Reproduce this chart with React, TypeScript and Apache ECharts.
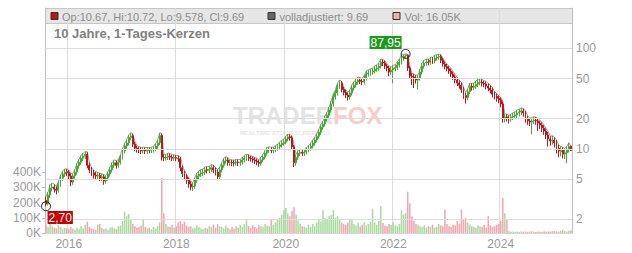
import React, { useEffect, useRef } from 'react';
import * as echarts from 'echarts';

const FONT = '"Liberation Sans", Arial, sans-serif';

// Two-week candles, first one starting 2015-08-04
const START = { y: 2015, m: 7, d: 4 };
const STEP_DAYS = 14;

const opens = [
  3.1, 2.85, 3.5, 4.1, 4.2, 4.0, 3.9, 4.5, 5.15, 5.65,
  5.95, 5.85, 5.4, 4.7, 5.4, 5.9, 6.8, 7.4, 8.1, 8.5,
  8.9, 6.9, 6.2, 5.8, 5.5, 5.4, 5.45, 5.15, 5.3, 4.8,
  5.15, 5.65, 6.2, 6.9, 7.3, 6.9, 7.4, 8.3, 9.55, 10.7,
  11.5, 13.0, 13.5, 11.2, 10.2, 9.9, 9.8, 9.6, 9.8, 9.55,
  9.75, 9.7, 9.8, 10.0, 10.7, 11.5, 13.6, 8.3, 8.2, 8.3,
  8.5, 8.3, 8.1, 8.2, 8.1, 8.0, 6.5, 5.7, 5.3, 4.9,
  4.5, 4.2, 4.3, 4.9, 5.4, 5.65, 5.8, 5.9, 6.25, 6.15,
  6.3, 6.5, 6.2, 5.9, 5.3, 6.2, 6.9, 7.6, 7.8, 7.3,
  7.35, 7.3, 7.25, 7.4, 7.3, 7.4, 7.8, 8.1, 8.3, 8.1,
  8.0, 7.8, 7.6, 7.4, 7.2, 7.8, 8.3, 9.1, 9.8, 9.85,
  9.7, 9.8, 10.2, 10.5, 11.0, 11.4, 11.7, 12.6, 13.2, 12.9,
  10.5, 7.3, 8.3, 9.1, 9.3, 9.1, 9.3, 9.8, 10.2, 10.7,
  11.5, 12.3, 13.4, 14.7, 16.5, 17.7, 19.9, 21.7, 24.4, 28.0,
  32.9, 36.0, 42.0, 45.0, 39.0, 36.5, 34.4, 32.8, 36.0, 40.3,
  43.2, 46.3, 48.4, 47.0, 46.3, 50.5, 55.6, 56.9, 58.2, 59.5,
  62.3, 63.7, 66.7, 73.0, 71.5, 66.7, 63.7, 58.2, 60.9, 63.0,
  64.2, 68.3, 73.0, 80.0, 84.0, 85.5, 63.7, 53.0, 51.9, 50.7,
  48.4, 50.7, 58.2, 66.7, 71.5, 73.0, 72.5, 76.5, 75.0, 80.0,
  82.0, 83.0, 76.0, 70.0, 66.0, 63.0, 59.5, 55.6, 51.9, 48.4,
  45.2, 43.0, 39.0, 34.0, 32.5, 37.0, 42.0, 41.0, 42.0, 44.0,
  46.0, 46.3, 45.0, 44.2, 42.2, 40.3, 38.5, 35.0, 33.5, 32.0,
  30.7, 28.0, 19.9, 20.8, 20.3, 19.9, 20.8, 21.3, 21.8, 22.8,
  23.3, 23.8, 22.8, 19.9, 19.0, 18.5, 19.0, 19.4, 19.0, 18.1,
  17.3, 16.2, 15.1, 13.8, 12.6, 12.0, 12.3, 11.5, 10.2, 9.4,
  9.7, 8.9, 9.2, 9.9, 10.67,
];

const closes = [
  2.85, 3.5, 4.1, 4.2, 4.0, 3.9, 4.5, 5.15, 5.65, 5.9,
  5.85, 5.4, 4.7, 5.4, 5.9, 6.8, 7.4, 8.1, 8.5, 8.9,
  6.9, 6.2, 5.8, 5.5, 5.4, 5.45, 5.15, 5.3, 4.8, 5.15,
  5.65, 6.2, 6.9, 7.3, 6.9, 7.4, 8.3, 9.55, 10.7, 11.5,
  13.0, 13.5, 11.2, 10.2, 9.9, 9.8, 9.6, 9.8, 9.55, 9.75,
  9.7, 9.8, 10.0, 10.7, 11.5, 13.6, 8.3, 8.2, 8.3, 8.5,
  8.3, 8.1, 8.2, 8.1, 8.0, 6.5, 5.7, 5.3, 4.9, 4.5,
  4.2, 4.3, 4.9, 5.4, 5.65, 5.8, 5.9, 6.2, 6.15, 6.3,
  6.5, 6.2, 5.9, 5.3, 6.2, 6.9, 7.6, 7.8, 7.3, 7.35,
  7.3, 7.25, 7.4, 7.3, 7.4, 7.8, 8.1, 8.3, 8.1, 8.0,
  7.8, 7.6, 7.4, 7.2, 7.8, 8.3, 9.1, 9.8, 9.85, 9.7,
  9.8, 10.2, 10.5, 11.0, 11.4, 11.7, 12.6, 13.2, 12.9, 10.5,
  7.3, 8.3, 9.1, 9.3, 9.1, 9.3, 9.8, 10.2, 10.7, 11.5,
  12.3, 13.4, 14.7, 16.5, 17.7, 19.9, 21.7, 24.4, 28.0, 32.9,
  36.0, 42.0, 45.0, 39.0, 36.5, 34.4, 32.8, 36.0, 40.3, 43.2,
  46.3, 48.4, 47.0, 46.3, 50.5, 55.6, 56.9, 58.2, 59.5, 62.3,
  63.7, 66.7, 73.0, 71.5, 66.7, 63.7, 58.2, 60.9, 63.7, 64.2,
  68.3, 73.0, 80.0, 84.0, 85.5, 63.7, 53.0, 51.9, 50.7, 48.4,
  50.7, 58.2, 66.7, 71.5, 73.0, 72.5, 76.5, 75.0, 80.0, 82.0,
  83.0, 76.0, 70.0, 66.0, 63.0, 59.5, 55.6, 51.9, 48.4, 45.2,
  43.0, 39.0, 34.0, 32.5, 37.0, 42.0, 41.0, 42.0, 44.0, 46.0,
  46.3, 45.0, 44.2, 42.2, 40.3, 38.5, 35.0, 33.5, 32.0, 30.7,
  28.0, 19.9, 20.8, 20.3, 19.9, 20.8, 21.3, 21.8, 22.8, 23.3,
  23.8, 22.8, 19.9, 19.0, 18.5, 19.0, 19.4, 19.0, 18.1, 17.3,
  16.2, 15.1, 13.8, 12.6, 12.0, 12.3, 11.5, 10.2, 9.55, 9.7,
  8.9, 9.2, 9.9, 10.67, 9.69,
];

const lows = [
  2.70, 2.75, 3.26, 3.79, 3.70, 3.55, 3.70, 4.22, 4.85, 5.28,
  5.38, 4.99, 4.27, 4.42, 5.09, 5.57, 6.38, 6.96, 7.58, 7.97,
  6.43, 5.76, 5.38, 5.09, 4.99, 4.99, 4.80, 4.80, 4.42, 4.51,
  4.85, 5.33, 5.86, 6.48, 6.38, 6.53, 7.01, 7.87, 9.02, 10.08,
  10.85, 12.19, 10.46, 9.50, 9.22, 9.12, 8.93, 9.02, 8.93, 8.98,
  9.07, 9.12, 9.22, 9.50, 10.08, 10.94, 7.68, 7.58, 7.68, 7.78,
  7.78, 7.58, 7.63, 7.58, 7.44, 6.05, 5.28, 4.90, 4.51, 4.13,
  3.89, 3.84, 4.03, 4.61, 5.04, 5.28, 5.38, 5.52, 5.71, 5.76,
  5.90, 5.76, 5.47, 4.90, 4.99, 5.86, 6.53, 7.15, 6.82, 6.82,
  6.77, 6.72, 6.82, 6.77, 6.82, 7.01, 7.34, 7.63, 7.58, 7.49,
  7.30, 7.10, 6.91, 6.67, 6.82, 7.39, 7.87, 8.64, 9.17, 9.07,
  9.12, 9.31, 9.60, 9.94, 10.37, 10.75, 11.14, 11.90, 12.10, 9.79,
  6.62, 6.82, 7.78, 8.54, 8.50, 8.54, 8.83, 9.26, 9.65, 10.13,
  10.85, 11.62, 12.67, 13.82, 15.55, 16.70, 18.72, 20.45, 23.04, 26.40,
  31.01, 33.98, 39.55, 36.48, 34.08, 32.06, 30.34, 30.91, 33.98, 38.02,
  40.70, 43.58, 43.97, 43.01, 43.78, 47.62, 52.32, 53.38, 54.62, 56.06,
  58.56, 59.90, 62.88, 66.62, 62.21, 59.04, 52.80, 54.53, 45.12, 59.04,
  60.48, 64.51, 69.12, 75.65, 78.72, 59.52, 49.44, 43.20, 40.32, 44.64,
  38.88, 47.81, 54.91, 62.88, 67.20, 67.68, 68.35, 70.08, 71.04, 75.36,
  77.28, 71.52, 65.76, 61.92, 59.04, 55.68, 51.84, 48.48, 45.12, 42.24,
  39.84, 36.00, 31.49, 28.32, 30.53, 34.94, 37.92, 38.40, 39.55, 41.28,
  43.01, 41.76, 41.09, 39.17, 37.44, 35.71, 32.45, 31.01, 29.57, 28.42,
  25.92, 18.24, 18.43, 18.72, 17.95, 18.62, 19.39, 19.78, 20.35, 21.12,
  21.70, 20.93, 18.24, 17.38, 16.90, 13.92, 17.66, 17.38, 15.17, 15.84,
  14.78, 13.82, 12.58, 10.56, 10.75, 11.04, 10.37, 9.02, 8.26, 8.45,
  8.06, 7.97, 7.20, 9.22, 9.578,
];

const highs = [
  3.38, 3.74, 4.42, 4.58, 4.47, 4.26, 4.78, 5.51, 6.03, 6.34,
  6.34, 6.19, 5.72, 5.72, 6.29, 7.23, 7.90, 8.63, 9.10, 9.46,
  9.36, 7.33, 6.60, 6.19, 5.93, 5.88, 5.77, 5.67, 5.56, 5.46,
  5.98, 6.60, 7.33, 7.80, 7.70, 7.85, 8.79, 10.14, 11.34, 12.27,
  13.83, 14.46, 14.14, 11.86, 10.82, 10.50, 10.40, 10.40, 10.35, 10.35,
  10.35, 10.40, 10.61, 11.34, 12.27, 14.46, 14.25, 8.89, 8.84, 9.10,
  9.00, 8.79, 8.74, 8.68, 8.58, 8.37, 6.86, 6.08, 5.62, 5.20,
  4.78, 4.63, 5.20, 5.77, 6.08, 6.24, 6.34, 6.66, 6.66, 6.76,
  6.97, 6.92, 6.55, 6.24, 6.60, 7.33, 8.11, 8.37, 8.22, 7.85,
  7.80, 7.75, 7.90, 7.85, 7.90, 8.32, 8.63, 8.89, 8.79, 8.58,
  8.42, 8.27, 8.06, 7.80, 8.27, 8.84, 9.67, 10.40, 10.50, 10.40,
  10.45, 10.82, 11.18, 11.70, 12.17, 12.48, 13.42, 14.04, 13.94, 13.52,
  11.02, 8.84, 9.67, 9.93, 9.83, 9.93, 10.40, 10.87, 11.39, 12.27,
  13.10, 14.25, 15.70, 17.58, 18.93, 21.22, 23.19, 26.10, 29.95, 35.15,
  38.69, 45.03, 48.36, 47.32, 41.39, 38.69, 36.61, 38.48, 43.16, 46.38,
  49.71, 52.00, 51.38, 50.13, 54.08, 59.59, 61.15, 62.40, 63.86, 66.77,
  68.43, 71.55, 78.31, 77.58, 75.19, 70.20, 67.08, 65.31, 68.12, 68.64,
  73.22, 78.21, 85.70, 86.90, 87.95, 87.00, 67.08, 56.78, 55.64, 54.08,
  54.08, 62.19, 71.24, 76.44, 78.21, 78.00, 81.74, 81.64, 85.49, 86.50,
  87.50, 86.80, 80.08, 73.84, 69.89, 66.56, 62.92, 58.76, 54.91, 51.27,
  48.05, 45.76, 41.39, 36.40, 39.52, 44.93, 44.93, 45.24, 47.32, 49.40,
  49.92, 49.09, 47.84, 46.80, 44.72, 42.85, 40.77, 37.23, 35.57, 33.90,
  32.55, 29.64, 22.36, 22.15, 21.63, 22.26, 22.88, 23.40, 24.44, 24.96,
  25.58, 25.17, 23.92, 21.32, 20.38, 20.49, 20.90, 20.70, 20.18, 19.24,
  18.41, 17.26, 16.02, 14.77, 13.42, 13.52, 13.10, 12.27, 11.02, 10.61,
  10.40, 10.09, 10.71, 11.54, 10.72,
];

// Volume in thousands
const volumesK = [
  55, 40, 65, 45, 35, 30, 50, 40, 25, 35,
  30, 25, 40, 30, 20, 35, 25, 45, 30, 55,
  75, 40, 30, 25, 20, 55, 60, 35, 25, 30,
  20, 35, 40, 30, 25, 45, 50, 80, 140, 110,
  125, 90, 60, 45, 35, 40, 50, 85, 40, 30,
  35, 25, 40, 30, 45, 70, 363, 130, 60, 45,
  40, 55, 35, 45, 70, 80, 60, 75, 50, 40,
  45, 30, 35, 50, 40, 30, 25, 35, 30, 45,
  40, 55, 35, 60, 45, 40, 30, 50, 35, 25,
  40, 30, 45, 35, 55, 40, 60, 90, 45, 35,
  50, 40, 30, 55, 45, 40, 60, 50, 45, 85,
  55, 70, 90, 100, 120, 150, 165, 130, 110, 145,
  170, 120, 80, 60, 45, 40, 35, 55, 40, 60,
  45, 70, 90, 75, 150, 100, 85, 110, 120, 150,
  100, 110, 90, 70, 60, 55, 70, 90, 85, 60,
  50, 65, 45, 55, 70, 50, 60, 75, 160, 70,
  55, 80, 177, 65, 50, 45, 60, 55, 70, 50,
  45, 60, 150, 120, 130, 272, 195, 110, 80, 60,
  55, 45, 40, 50, 35, 45, 40, 55, 35, 40,
  60, 50, 45, 155, 60, 45, 40, 55, 50, 80,
  60, 155, 90, 100, 70, 55, 45, 40, 35, 50,
  45, 40, 55, 35, 112, 50, 40, 45, 55, 60,
  80, 230, 130, 90, 12, 8, 10, 7, 9, 6,
  11, 8, 10, 7, 9, 12, 8, 6, 10, 9,
  7, 11, 8, 10, 9, 12, 14, 10, 9, 16,
  20, 12, 10, 14, 16,
];

const priceLevels = [2, 5, 10, 20, 50, 100];
const volumeTicksK = [0, 100, 200, 300, 400];
const yearLabels = [2016, 2018, 2020, 2022, 2024];

const headerTexts = {
  ohlc: 'Op:10.67, Hi:10.72, Lo:9.578, Cl:9.69',
  adjusted: 'volladjustiert: 9.69',
  volume: 'Vol: 16.05K',
};
const titleText = '10 Jahre, 1-Tages-Kerzen';

const UP = '#47a933';
const DOWN = '#bd161b';
const VOL_UP = '#a9dba1';
const VOL_DOWN = '#f1a7b1';

function pad(n: number) {
  return n < 10 ? '0' + n : '' + n;
}

const dates: string[] = closes.map((_, i) => {
  const d = new Date(Date.UTC(START.y, START.m, START.d + i * STEP_DAYS));
  return `${d.getUTCFullYear()}-${pad(d.getUTCMonth() + 1)}-${pad(d.getUTCDate())}`;
});

function isYearStart(i: number) {
  if (i <= 0) return false;
  const y = +dates[i].slice(0, 4);
  const prev = +dates[i - 1].slice(0, 4);
  return y !== prev && yearLabels.indexOf(y) >= 0;
}

export default function App() {
  const ref = useRef<HTMLDivElement>(null);

  useEffect(() => {
    if (!ref.current) return;
    const chart = echarts.init(ref.current, undefined, { renderer: 'svg' });

    const candleData = closes.map((c, i) => [opens[i], c, lows[i], highs[i]]);
    const volData = volumesK.map((v, i) => ({
      value: v,
      itemStyle: { color: closes[i] >= opens[i] ? VOL_UP : VOL_DOWN },
    }));

    const fmtComma = (p: any) => Number(p.value).toFixed(2).replace('.', ',');

    const option: any = {
      animation: false,
      backgroundColor: '#ffffff',
      textStyle: { fontFamily: FONT },
      grid: { left: 45, right: 60, top: 8, bottom: 20 },
      xAxis: {
        type: 'category',
        data: dates,
        boundaryGap: true,
        axisLine: { show: true, lineStyle: { color: '#d6d6d6' } },
        axisTick: { show: false },
        axisLabel: {
          interval: (i: number) => isYearStart(i),
          formatter: (v: string) => v.slice(0, 4),
          color: '#999999',
          fontSize: 12,
          fontFamily: FONT,
          margin: 5,
        },
        splitLine: {
          show: true,
          interval: (i: number) => isYearStart(i),
          lineStyle: { color: '#dcdcdc', width: 1 },
        },
      },
      yAxis: [
        {
          type: 'value',
          position: 'left',
          min: 0,
          max: 1480,
          interval: 100,
          axisLine: { show: true, lineStyle: { color: '#bdbdbd' } },
          axisTick: {
            show: true,
            length: 3,
            customValues: volumeTicksK,
            lineStyle: { color: '#bdbdbd' },
          },
          axisLabel: {
            customValues: volumeTicksK,
            formatter: (v: number) => (v <= 400 ? v + 'K' : ''),
            color: '#999999',
            fontSize: 12,
            fontFamily: FONT,
            margin: 4,
          },
          splitLine: { show: false },
        },
        {
          type: 'log',
          logBase: 10,
          position: 'right',
          min: 1.466,
          max: 251.3,
          axisLine: { show: true, lineStyle: { color: '#bdbdbd' } },
          axisTick: { show: false },
          axisLabel: { show: false },
          splitLine: { show: false },
        },
      ],
      graphic: [
        {
          type: 'rect',
          silent: true,
          z: 0,
          shape: { x: 45.5, y: 8.5, width: 527, height: 15 },
          style: { fill: 'rgba(205,205,205,0.5)', stroke: '#c6c6c6', lineWidth: 1 },
        },
        {
          type: 'rect', silent: true, z: 1,
          shape: { x: 51, y: 12.5, width: 7, height: 7 },
          style: { fill: '#b3161b', stroke: '#333', lineWidth: 1 },
        },
        {
          type: 'text', silent: true, z: 1, x: 62, y: 16.5,
          style: {
            text: headerTexts.ohlc, fill: '#8c8c8c', font: `11px ${FONT}`,
            textVerticalAlign: 'middle', verticalAlign: 'middle',
          },
        },
        {
          type: 'rect', silent: true, z: 1,
          shape: { x: 268, y: 12.5, width: 7, height: 7 },
          style: { fill: '#666666', stroke: '#333', lineWidth: 1 },
        },
        {
          type: 'text', silent: true, z: 1, x: 279.5, y: 16.5,
          style: {
            text: headerTexts.adjusted, fill: '#8c8c8c', font: `11px ${FONT}`,
            textVerticalAlign: 'middle', verticalAlign: 'middle',
          },
        },
        {
          type: 'rect', silent: true, z: 1,
          shape: { x: 393, y: 12.5, width: 7, height: 7 },
          style: { fill: '#f2aab3', stroke: '#333', lineWidth: 1 },
        },
        {
          type: 'text', silent: true, z: 1, x: 404.5, y: 16.5,
          style: {
            text: headerTexts.volume, fill: '#8c8c8c', font: `11px ${FONT}`,
            textVerticalAlign: 'middle', verticalAlign: 'middle',
          },
        },
        {
          type: 'text', silent: true, z: 1, x: 54, y: 33.5,
          style: {
            text: titleText, fill: '#808080', font: `bold 13px ${FONT}`,
            textVerticalAlign: 'middle', verticalAlign: 'middle',
          },
        },
        {
          type: 'text', silent: true, z: 0, x: 233, y: 115.5,
          style: {
            text: 'TRADER', fill: '#e3e3e3', font: `bold 24px ${FONT}`, lineHeight: 18,
            textVerticalAlign: 'middle', verticalAlign: 'middle',
          },
        },
        {
          type: 'text', silent: true, z: 0, x: 333, y: 115.5,
          style: {
            text: 'FOX', fill: '#f7cccc', font: `bold 24px ${FONT}`, lineHeight: 18,
            textVerticalAlign: 'middle', verticalAlign: 'middle',
          },
        },
        {
          type: 'text', silent: true, z: 0, x: 240, y: 132.5,
          style: {
            text: 'REALTIME STOCK SCREENING', fill: '#e6e6e6', font: `bold 6px ${FONT}`, lineHeight: 6,
            textVerticalAlign: 'middle', verticalAlign: 'middle',
          },
        },
      ],
      series: [
        {
          name: 'Vol',
          type: 'bar',
          xAxisIndex: 0,
          yAxisIndex: 0,
          data: volData,
          barWidth: '75%',
          z: 1,
          silent: true,
        },
        {
          name: 'volladjustiert',
          type: 'line',
          xAxisIndex: 0,
          yAxisIndex: 1,
          data: highs,
          symbol: 'none',
          lineStyle: { color: '#9a9a9a', width: 1 },
          z: 2,
          silent: true,
          markLine: {
            silent: true,
            symbol: 'none',
            lineStyle: { color: '#dcdcdc', type: 'solid', width: 1 },
            label: {
              show: true,
              position: 'end',
              distance: 4,
              formatter: (p: any) => String(p.value),
              color: '#999999',
              fontSize: 12,
              fontFamily: FONT,
            },
            data: priceLevels.map((v) => ({ yAxis: v })),
          },
        },
        {
          name: 'Kerzen',
          type: 'candlestick',
          xAxisIndex: 0,
          yAxisIndex: 1,
          data: candleData,
          barWidth: '70%',
          z: 3,
          itemStyle: {
            color: UP,
            color0: DOWN,
            borderColor: UP,
            borderColor0: DOWN,
            borderWidth: 1,
          },
          markPoint: {
            silent: true,
            symbol: 'circle',
            symbolSize: 9,
            itemStyle: { color: 'rgba(0,0,0,0)', borderColor: '#222', borderWidth: 1 },
            data: [
              {
                type: 'max',
                valueDim: 'highest',
                label: {
                  show: true,
                  formatter: fmtComma,
                  position: [1, 0],
                  align: 'right',
                  verticalAlign: 'bottom',
                  backgroundColor: '#1a9a1a',
                  color: '#ffffff',
                  padding: [1, 1, 0, 1],
                  fontSize: 12,
                  lineHeight: 12,
                  fontFamily: FONT,
                },
              },
              {
                type: 'min',
                valueDim: 'lowest',
                label: {
                  show: true,
                  formatter: fmtComma,
                  position: [6.5, 9.7],
                  align: 'left',
                  verticalAlign: 'top',
                  backgroundColor: '#cc0000',
                  color: '#ffffff',
                  padding: [1, 1, 0, 1],
                  fontSize: 12,
                  lineHeight: 12,
                  fontFamily: FONT,
                },
              },
            ],
          },
        },
      ],
    };

    chart.setOption(option);
    return () => chart.dispose();
  }, []);

  return (
    <div
      ref={ref}
      style={{ position: 'absolute', left: 0, top: 0, width: 632, height: 253, background: '#fff' }}
    />
  );
}
